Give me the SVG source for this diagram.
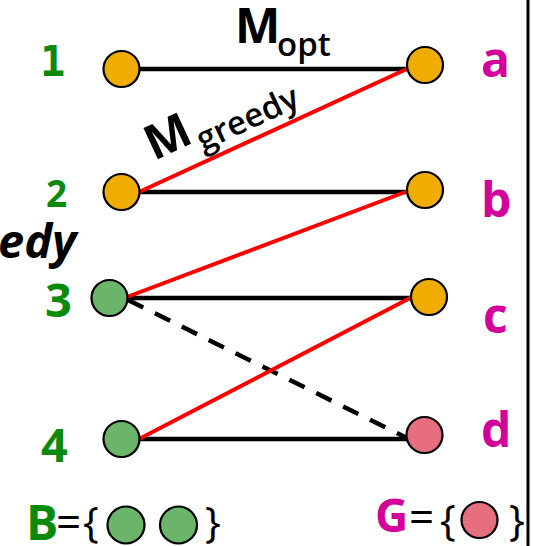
<svg xmlns="http://www.w3.org/2000/svg" width="533" height="546" viewBox="0 0 533 546">
<defs>
<style>
.n{stroke:#000;stroke-width:2.2}
.o{fill:#F0AC00}
.g{fill:#6BB56B}
.p{fill:#E66E7E}
.bk{stroke:#000;stroke-width:4.5;fill:none}
.rd{stroke:#FF0000;stroke-width:4;fill:none}
.ds{stroke:#000;stroke-width:4.5;stroke-dasharray:17 13;fill:none}
text{font-family:"Open Sans","Noto Sans",sans-serif;font-weight:bold}
.num{fill:#0A8A0A}
.let{font-size:48px;fill:#D4009B}
.blk{fill:#000}
.br{font-weight:normal;fill:#000}
</style>
</defs>
<rect width="533" height="546" fill="#fff"/>
<line x1="528" y1="0" x2="528" y2="546" stroke="#000" stroke-width="3"/>
<g id="connectors">
<line class="bk" x1="140" y1="69" x2="408" y2="69"/>
<line class="bk" x1="140" y1="192" x2="408" y2="192"/>
<line class="bk" x1="127" y1="298" x2="412" y2="298"/>
<line class="bk" x1="139" y1="439" x2="407" y2="439"/>
<line class="ds" x1="128" y1="300" x2="407" y2="438"/>
<line class="rd" x1="409" y1="68" x2="139" y2="192"/>
<line class="rd" x1="408" y1="191" x2="127" y2="297"/>
<line class="rd" x1="412" y1="297" x2="139" y2="439"/>
</g>
<g id="n1"><circle class="n o" cx="121.5" cy="69" r="18"/><text x="40" y="76" style="font-family:'DejaVu Sans Mono',monospace;font-size:42px" fill="#0A8A0A">1</text></g>
<g id="n2"><circle class="n o" cx="121.5" cy="192" r="18"/><text class="num" x="46" y="207" font-size="37">2</text></g>
<g id="n3"><circle class="n g" cx="109.5" cy="298" r="18"/><text class="num" x="45" y="317" font-size="47">3</text></g>
<g id="n4"><circle class="n g" cx="121.5" cy="439" r="18"/><text class="num" x="41" y="462" font-size="47">4</text></g>
<g id="na"><circle class="n o" cx="425" cy="65" r="18"/><text class="let" x="481" y="77">a</text></g>
<g id="nb"><circle class="n o" cx="425" cy="190" r="18"/><text class="let" x="481" y="217">b</text></g>
<g id="nc"><circle class="n o" cx="429" cy="297" r="18"/><text class="let" x="483" y="333">c</text></g>
<g id="nd"><circle class="n p" cx="424.5" cy="435" r="18"/><text class="let" x="481" y="447">d</text></g>
<g id="label-opt"><text class="blk" x="235" y="43" font-size="48">M<tspan x="277" y="56" font-size="33" style="font-weight:600">opt</tspan></text></g>
<g id="label-greedy"><text class="blk" transform="translate(154,161) rotate(-25)" font-size="48">M<tspan dx="3" dy="12" font-size="33" style="font-weight:600">greedy</tspan></text></g>
<g id="label-edy"><text x="-2" y="258" font-size="47" style="font-style:italic" fill="#000">edy</text></g>
<g id="legend-b">
<text class="num" x="26" y="540" font-size="48">B</text>
<text class="br" x="56" y="538" font-size="44">=</text>
<text class="br" x="83" y="537" font-size="42">{</text>
<circle class="n g" cx="126" cy="525" r="18.5"/>
<circle class="n g" cx="178.5" cy="525" r="18.5"/>
<text class="br" x="205" y="537" font-size="42">}</text>
</g>
<g id="legend-g">
<text x="375" y="532" font-size="46" fill="#D4009B">G</text>
<text class="br" x="409" y="533" font-size="44">=</text>
<text class="br" x="440" y="535" font-size="42">{</text>
<circle class="n p" cx="479.5" cy="520" r="18"/>
<text class="br" x="509" y="535" font-size="42">}</text>
</g>
</svg>
